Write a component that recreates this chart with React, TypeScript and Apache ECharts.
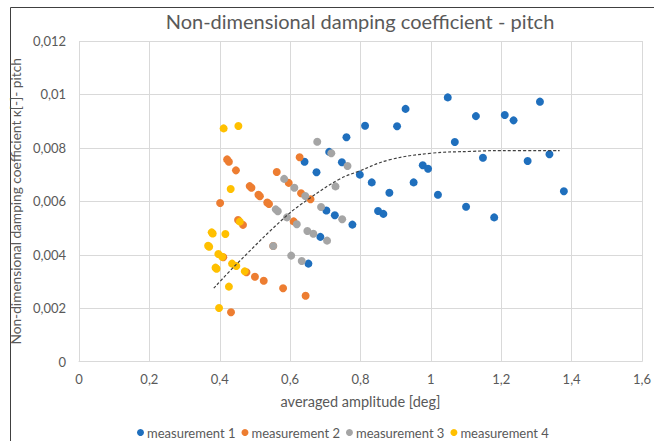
import React, { useEffect, useRef } from "react";
import * as echarts from "echarts";

const seriesNames = ["measurement 1", "measurement 2", "measurement 3", "measurement 4"];

const m1: number[][] = [
  [0.760, 0.00840], [0.813, 0.00883], [0.904, 0.00881], [0.928, 0.00946], [1.048, 0.00989],
  [1.128, 0.00919], [1.210, 0.00923], [1.235, 0.00903], [1.310, 0.00973], [1.068, 0.00822],
  [1.148, 0.00763], [1.275, 0.00751], [1.337, 0.00776], [0.747, 0.00746], [0.798, 0.00700],
  [0.977, 0.00735], [0.992, 0.00722], [0.832, 0.00671], [0.951, 0.00671], [0.882, 0.00632],
  [1.020, 0.00625], [1.378, 0.00638], [0.850, 0.00564], [0.865, 0.00553], [1.100, 0.00580],
  [1.180, 0.00540], [0.777, 0.00513], [0.711, 0.00785], [0.641, 0.00748], [0.675, 0.00709],
  [0.703, 0.00566], [0.727, 0.00548], [0.686, 0.00467], [0.652, 0.00367],
];

const m2: number[][] = [
  [0.421, 0.00757], [0.426, 0.00748], [0.446, 0.00716], [0.401, 0.00594], [0.485, 0.00657],
  [0.490, 0.00651], [0.510, 0.00625], [0.514, 0.00619], [0.535, 0.00596], [0.540, 0.00590],
  [0.452, 0.00530], [0.466, 0.00512], [0.562, 0.00710], [0.596, 0.00669], [0.627, 0.00765],
  [0.631, 0.00630], [0.658, 0.00608], [0.610, 0.00525], [0.410, 0.00391], [0.476, 0.00335],
  [0.500, 0.00318], [0.525, 0.00303], [0.580, 0.00275], [0.644, 0.00247], [0.432, 0.00185],
  [0.552, 0.00433],
];

const m3: number[][] = [
  [0.677, 0.00823], [0.717, 0.00780], [0.763, 0.00732], [0.583, 0.00684], [0.612, 0.00651],
  [0.643, 0.00620], [0.729, 0.00656], [0.559, 0.00570], [0.565, 0.00563], [0.591, 0.00540],
  [0.619, 0.00514], [0.688, 0.00579], [0.748, 0.00533], [0.649, 0.00489], [0.666, 0.00479],
  [0.705, 0.00453], [0.552, 0.00433], [0.603, 0.00397], [0.633, 0.00377],
];

const m4: number[][] = [
  [0.411, 0.00873], [0.453, 0.00882], [0.431, 0.00646], [0.377, 0.00484], [0.380, 0.00480],
  [0.416, 0.00478], [0.367, 0.00434], [0.370, 0.00430], [0.457, 0.00524], [0.396, 0.00403],
  [0.407, 0.00393], [0.388, 0.00352], [0.391, 0.00348], [0.435, 0.00367], [0.447, 0.00358],
  [0.471, 0.00338], [0.426, 0.00281], [0.398, 0.00201],
];

const trendX = [0.383, 0.447, 0.589, 0.655, 0.740, 0.796, 0.881, 1.0, 1.117, 1.201, 1.366];
const trendY = [0.00275, 0.00364, 0.00545, 0.00611, 0.00683, 0.00713, 0.00755, 0.0078, 0.00787, 0.0079, 0.0079];

const colors = ["#1F6FBD", "#ED7D31", "#A5A5A5", "#FFC000"];

const FONT = "Lato";
const TXT = "#595959";

const fmt = (v: number) => {
  if (v === 0) return "0";
  return String(parseFloat(v.toFixed(4))).replace(".", ",");
};

export default function App() {
  const ref = useRef<HTMLDivElement>(null);
  useEffect(() => {
    if (!ref.current) return;
    const chart = echarts.init(ref.current, undefined, { renderer: "svg" });
    const scatter = (name: string, data: number[][], i: number) => ({
      name,
      type: "scatter",
      data,
      symbol: "circle",
      symbolSize: 8,
      itemStyle: { color: colors[i], opacity: 1 },
      z: 2 + i,
    });
    chart.setOption({
      animation: false,
      textStyle: { fontFamily: FONT },
      title: {
        text: "Non-dimensional damping coefficient - pitch",
        left: 360,
        top: 11,
        textAlign: "center",
        padding: 0,
        textStyle: { fontFamily: FONT, fontSize: 20, fontWeight: "normal", color: TXT },
      },
      graphic: [
        {
          type: "rect",
          shape: { x: 10.5, y: 7.5, width: 800, height: 600 },
          style: { fill: "none", stroke: "#404040", lineWidth: 1 },
          silent: true,
          z: -10,
        },
      ],
      legend: {
        data: seriesNames,
        left: 137,
        top: 426,
        padding: 0,
        icon: "circle",
        itemWidth: 7,
        itemHeight: 7,
        itemGap: 6,
        textStyle: { fontFamily: FONT, fontSize: 13, color: TXT, padding: [0, 0, 0, -2] },
      },
      grid: { left: 78.4, right: 9.7, top: 41, bottom: 79.3, containLabel: false },
      xAxis: {
        type: "value",
        min: 0,
        max: 1.6,
        interval: 0.2,
        name: "averaged amplitude [deg]",
        nameLocation: "middle",
        nameGap: 32,
        nameTextStyle: { fontFamily: FONT, fontSize: 14.5, color: TXT },
        axisLine: { show: true, lineStyle: { color: "#D9D9D9", width: 1 } },
        axisTick: { show: false },
        axisLabel: { fontFamily: FONT, fontSize: 13, color: TXT, margin: 11, formatter: fmt },
        splitLine: { show: true, lineStyle: { color: "#D9D9D9", width: 1 } },
      },
      yAxis: {
        type: "value",
        min: 0,
        max: 0.012,
        interval: 0.002,
        name: "Non-dimensional damping coefficient κ[-]- pitch",
        nameLocation: "middle",
        nameGap: 49,
        nameTextStyle: { fontFamily: FONT, fontSize: 13.7, color: TXT },
        axisLine: { show: false },
        axisTick: { show: false },
        axisLabel: { fontFamily: FONT, fontSize: 13, color: TXT, margin: 13, formatter: fmt },
        splitLine: { show: true, lineStyle: { color: "#D9D9D9", width: 1 } },
      },
      series: [
        scatter(seriesNames[0], m1, 0),
        scatter(seriesNames[1], m2, 1),
        scatter(seriesNames[2], m3, 2),
        scatter(seriesNames[3], m4, 3),
        {
          name: "trend",
          type: "line",
          data: trendX.map((x, i) => [x, trendY[i]]),
          smooth: 0.4,
          symbol: "none",
          lineStyle: { color: "#404040", width: 1.2, type: [3, 2] },
          z: 10,
          silent: true,
        },
      ],
    });
    return () => chart.dispose();
  }, []);
  return (
    <div
      ref={ref}
      style={{ position: "fixed", left: 0, top: 0, width: 654, height: 441, background: "#fff" }}
    />
  );
}
